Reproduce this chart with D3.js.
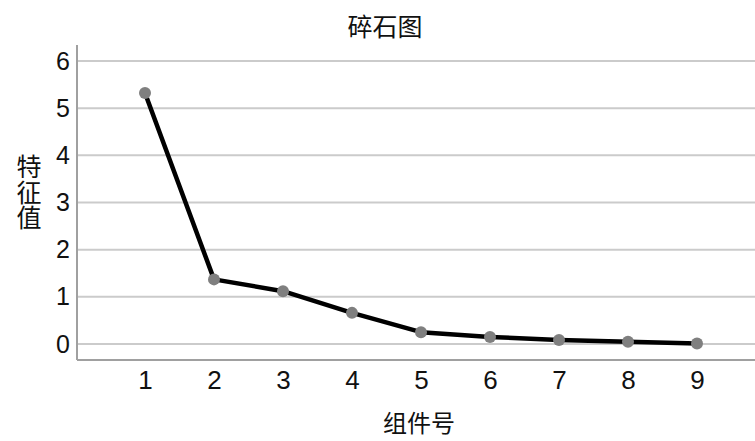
<!DOCTYPE html>
<html>
<head>
<meta charset="utf-8">
<script src="https://cdn.jsdelivr.net/npm/d3@7"></script>
<style>
  html, body { margin: 0; padding: 0; background: #fff; }
  svg { display: block; }
  text { font-family: "Liberation Sans", Arial, "Noto Sans CJK SC", sans-serif; fill: #111; }
  .cjk { font-family: "Noto Sans CJK SC", sans-serif; }
  .vertical { writing-mode: vertical-rl; text-orientation: upright; }
</style>
</head>
<body>
<svg id="chart" width="755" height="441"></svg>
<script>
// Scree plot: eigenvalue of each component
const components = [1, 2, 3, 4, 5, 6, 7, 8, 9];
const eigenvalues = [5.32, 1.37, 1.12, 0.66, 0.25, 0.15, 0.085, 0.05, 0.01];
const yTicks = [0, 1, 2, 3, 4, 5, 6];

const title = "碎石图";
const xTitle = "组件号";
const yTitle = "特征值";

const svg = d3.select("#chart");
const plotLeft = 77, plotRight = 755, plotTop = 45, plotBottom = 360;

const x = d3.scaleLinear().domain([0, 10]).range([76, 766]);
const y = d3.scaleLinear().domain([0, 6]).range([344, 61]);

// Horizontal gridlines
svg.append("g")
  .selectAll("line")
  .data(yTicks)
  .join("line")
  .attr("x1", plotLeft).attr("x2", plotRight)
  .attr("y1", d => y(d)).attr("y2", d => y(d))
  .attr("stroke", "#cbcbcb").attr("stroke-width", 2);

// Y axis
const yAxis = svg.append("g")
  .attr("transform", `translate(${plotLeft},0)`)
  .call(d3.axisLeft(y).tickValues(yTicks).tickFormat(d3.format("d")).tickSize(0).tickPadding(7));
yAxis.select(".domain").remove();
yAxis.selectAll("text").attr("font-size", 25).attr("fill", "#000")
  .style("font-family", "'Liberation Sans', Arial, sans-serif");
svg.append("line")
  .attr("x1", plotLeft).attr("x2", plotLeft)
  .attr("y1", plotTop).attr("y2", plotBottom)
  .attr("stroke", "#a0a0a0").attr("stroke-width", 2);

// X axis
const xAxis = svg.append("g")
  .attr("transform", `translate(0,${plotBottom})`)
  .call(d3.axisBottom(x).tickValues(components).tickFormat(d3.format("d")).tickSize(0).tickPadding(11));
xAxis.select(".domain").remove();
xAxis.selectAll("text").attr("font-size", 26).attr("fill", "#000")
  .style("font-family", "'Liberation Sans', Arial, sans-serif");
svg.append("line")
  .attr("x1", plotLeft).attr("x2", plotRight)
  .attr("y1", plotBottom).attr("y2", plotBottom)
  .attr("stroke", "#a0a0a0").attr("stroke-width", 2);

const pts = components.map((c, i) => [c, eigenvalues[i]]);

// Eigenvalue line
svg.append("path")
  .datum(pts)
  .attr("fill", "none")
  .attr("stroke", "#000")
  .attr("stroke-width", 4.5)
  .attr("stroke-linejoin", "round")
  .attr("d", d3.line().x(d => x(d[0])).y(d => y(d[1])));

// Markers
svg.append("g")
  .selectAll("circle")
  .data(pts)
  .join("circle")
  .attr("cx", d => x(d[0])).attr("cy", d => y(d[1]))
  .attr("r", 6)
  .attr("fill", "#7f7f7f");

// Titles
svg.append("text")
  .attr("class", "cjk")
  .attr("x", 385).attr("y", 25)
  .attr("text-anchor", "middle").attr("dominant-baseline", "central")
  .attr("font-size", 25)
  .attr("fill", "#000")
  .text(title);

svg.append("text")
  .attr("class", "cjk")
  .attr("x", 419).attr("y", 432)
  .attr("text-anchor", "middle")
  .attr("font-size", 24)
  .attr("fill", "#000")
  .text(xTitle);

// Y-axis title set vertically with upright characters
svg.append("text")
  .attr("class", "cjk vertical")
  .attr("x", 29).attr("y", 154)
  .attr("font-size", 25)
  .attr("letter-spacing", 0.5)
  .attr("fill", "#000")
  .text(yTitle);
</script>
</body>
</html>
